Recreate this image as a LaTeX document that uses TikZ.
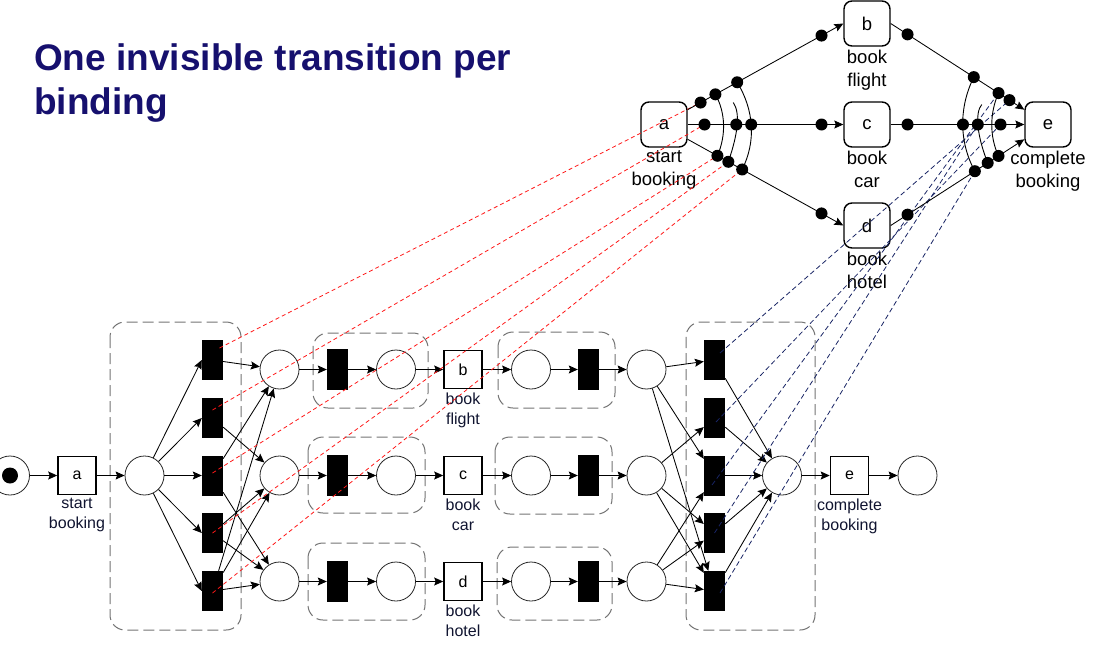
\documentclass[tikz,border=0pt]{standalone}
\usepackage{fontspec}
\setmainfont{Liberation Sans}
\usetikzlibrary{arrows.meta,calc}
\definecolor{titleblue}{RGB}{22,16,110}
\definecolor{labelink}{RGB}{16,20,48}
\definecolor{bindred}{RGB}{255,24,24}
\definecolor{bindblue}{RGB}{24,36,100}
\begin{document}
\begin{tikzpicture}[x=1pt,y=-1pt,
  >={Stealth[length=9pt,width=8pt,inset=1.5pt]},
  flow/.style={->,line width=0.85pt},
  place/.style={circle,draw=black!85,line width=0.8pt,minimum size=39pt,inner sep=0pt},
  silent/.style={rectangle,fill=black,minimum width=21pt,minimum height=40pt,inner sep=0pt},
  task/.style={rectangle,draw,line width=1.6pt,minimum width=38pt,minimum height=38pt,inner sep=0pt,font=\fontsize{16}{19}\selectfont},
  tasklabel/.style={anchor=north,align=center,inner sep=0pt,text=labelink,font=\fontsize{16}{20}\selectfont},
  group/.style={draw=black!55,line width=1pt,dash pattern=on 11pt off 5pt,rounded corners=15pt},
  activity/.style={rectangle,draw,rounded corners=8pt,line width=1.4pt,minimum width=46pt,minimum height=45pt,inner sep=0pt,font=\fontsize{18.5}{22}\selectfont},
  actlabel/.style={anchor=north,align=center,inner sep=0pt,font=\fontsize{18.5}{23}\selectfont},
  dot/.style={circle,fill=black,minimum size=12pt,inner sep=0pt},
  bindarc/.style={line width=0.9pt},
  redlink/.style={draw=bindred,line width=0.8pt,dash pattern=on 4pt off 3pt},
  bluelink/.style={draw=bindblue,line width=0.8pt,dash pattern=on 5pt off 3pt},
  titletext/.style={anchor=base west,inner sep=0pt,text=titleblue,font=\fontsize{37}{44}\selectfont\bfseries},
]
\useasboundingbox (0,0) rectangle (1102,662);

% ---------- heading ----------
\node[titletext] (title1) at (34,70) {One invisible transition per};
\node[titletext] (title2) at (34,114) {binding};

% ---------- Petri net: groups of silent transitions ----------
\draw[group] (110,322) rectangle (241,630);
\draw[group] (313,333) rectangle (428,408);
\draw[group] (308,437) rectangle (425,513);
\draw[group] (308,543) rectangle (425,620);
\draw[group] (498,332) rectangle (615,408);
\draw[group] (495,437) rectangle (612,514);
\draw[group] (497,547) rectangle (612,620);
\draw[group] (686,322) rectangle (815,630);

% ---------- Petri net: places and transitions ----------
\node[place] (src) at (10,475.5) {};
\node[circle,fill=black,minimum size=16pt,inner sep=0pt] (token) at (src.center) {};
\node[task] (ta) at (77,475.5) {a};
\node[tasklabel] (la) at ($(ta.south)+(0,3)$) {start\\booking};
\node[place] (p1) at (144.5,475.5) {};

\foreach \i/\y in {1/360,2/418,3/475.5,4/533,5/591} {
  \node[silent] (s\i) at (212.5,\y) {};
  \node[silent] (j\i) at (714.5,\y) {};
}

\foreach \r/\y in {b/369.5,c/475.5,d/581.5} {
  \node[place] (p\r0) at (279.5,\y) {};
  \node[silent,minimum height=41pt] (x\r1) at (337.5,\y) {};
  \node[place] (p\r1) at (396,\y) {};
  \node[task] (t\r) at (463,\y) {\r};
  \node[place] (p\r2) at (531,\y) {};
  \node[silent,minimum height=41pt] (x\r2) at (588.5,\y) {};
  \node[place] (p\r3) at (646.5,\y) {};
}
\node[tasklabel] (lb) at ($(tb.south)+(0,3)$) {book\\flight};
\node[tasklabel] (lc) at ($(tc.south)+(0,3)$) {book\\car};
\node[tasklabel] (ld) at ($(td.south)+(0,3)$) {book\\hotel};

\node[place] (pm) at (782,475.5) {};
\node[task] (te) at (849.5,475.5) {e};
\node[tasklabel] (le) at ($(te.south)+(0,3)$) {complete\\booking};
\node[place] (sink) at (917.5,475.5) {};

% ---------- Petri net: arcs ----------
\draw[flow] (src) -- (ta);
\draw[flow] (ta) -- (p1);
\foreach \i in {1,...,5} \draw[flow] (p1) -- (s\i.west);
\draw[flow] (s1) -- (pb0);
\draw[flow] (s2) -- (pc0);
\draw[flow] (s3) -- (pb0);
\draw[flow] (s3) -- (pd0);
\draw[flow] (s4) -- (pc0);
\draw[flow] (s4) -- (pd0);
\draw[flow] (s5) -- (pb0);
\draw[flow] (s5) -- (pc0);
\draw[flow] (s5) -- (pd0);
\foreach \r in {b,c,d} {
  \draw[flow] (p\r0) -- (x\r1);
  \draw[flow] (x\r1) -- (p\r1);
  \draw[flow] (p\r1) -- (t\r);
  \draw[flow] (t\r) -- (p\r2);
  \draw[flow] (p\r2) -- (x\r2);
  \draw[flow] (x\r2) -- (p\r3);
}
\draw[flow] (pb3) -- (j1);
\draw[flow] (pb3) -- (j3);
\draw[flow] (pb3) -- (j5);
\draw[flow] (pc3) -- (j2);
\draw[flow] (pc3) -- (j4);
\draw[flow] (pc3) -- (j5);
\draw[flow] (pd3) -- (j3);
\draw[flow] (pd3) -- (j4);
\draw[flow] (pd3) -- (j5);
\foreach \i in {1,...,5} \draw[flow] (j\i) -- (pm);
\draw[flow] (pm) -- (te);
\draw[flow] (te) -- (sink);

% ---------- causal net: activities ----------
\node[activity] (ca) at (664,124.5) {a};
\node[activity] (cb) at (867,23.5) {b};
\node[activity] (cc) at (867,124.5) {c};
\node[activity] (cd) at (867,225.5) {d};
\node[activity] (ce) at (1048,124.5) {e};
\node[actlabel] (lca) at ($(ca.south)+(0,3)$) {start\\booking};
\node[actlabel] (lcb) at ($(cb.south)+(0,3)$) {book\\flight};
\node[actlabel] (lcc) at ($(cc.south)+(0,3)$) {book\\car};
\node[actlabel] (lcd) at ($(cd.south)+(0,3)$) {book\\hotel};
\node[actlabel] (lce) at ($(ce.south)+(0,3)$) {complete\\booking};

% binding dots along the dependency arcs
\path (ca.32) -- (cb.west) coordinate[pos=.083] (ab1) coordinate[pos=.178] (ab2)
      coordinate[pos=.318] (ab3) coordinate[pos=.86] (ab4);
\path (ca.east) -- (cc.west) coordinate[pos=.108] (ac1) coordinate[pos=.312] (ac2)
      coordinate[pos=.408] (ac3) coordinate[pos=.86] (ac4);
\path (ca.-32) -- (cd.west) coordinate[pos=.191] (ad1) coordinate[pos=.261] (ad2)
      coordinate[pos=.35] (ad3) coordinate[pos=.86] (ad4);
\path (cb.east) -- (ce.148) coordinate[pos=.126] (be1) coordinate[pos=.622] (be2)
      coordinate[pos=.807] (be3) coordinate[pos=.889] (be4);
\path (cc.east) -- (ce.west) coordinate[pos=.126] (ce1) coordinate[pos=.541] (ce2)
      coordinate[pos=.652] (ce3) coordinate[pos=.822] (ce4);
\path (cd.east) -- (ce.212) coordinate[pos=.126] (de1) coordinate[pos=.63] (de2)
      coordinate[pos=.726] (de3) coordinate[pos=.807] (de4);
\coordinate (asplit) at ($(ac2)+(-3,-22)$);
\coordinate (ejoin) at ($(ce3)+(4,-20)$);

% ---------- links from silent transitions to bindings ----------
\draw[redlink] ([shift={(7,-12)}]s1.center) -- (ab1);
\draw[redlink] ([shift={(0,-8)}]s2.center) -- (ac1);
\draw[redlink] ([shift={(0,-2.5)}]s3.center) -- (ad1);
\draw[redlink] (s4.center) -- (ad2);
\draw[redlink] ([shift={(0,2)}]s5.center) -- (ad3);
\draw[bluelink] ([shift={(5.5,-7)}]j1.center) -- (be4);
\draw[bluelink] ([shift={(1.5,4)}]j2.center) -- (ce4);
\draw[bluelink] ([shift={(-2.5,9.5)}]j3.center) -- (be3);
\draw[bluelink] (j4.center) -- (ce3);
\draw[bluelink] ([shift={(5.5,2)}]j5.center) -- (de2);

% ---------- causal net: dependencies ----------
\draw[flow] (ca.32) -- (cb.west);
\draw[flow] (ca.east) -- (cc.west);
\draw[flow] (ca.-32) -- (cd.west);
\draw[flow] (cb.east) -- (ce.148);
\draw[flow] (cc.east) -- (ce.west);
\draw[flow] (cd.east) -- (ce.212);

% output bindings of a
\draw[bindarc] (ab2) .. controls +(10,18) and +(9,-21) .. (ad1);
\draw[bindarc] (asplit) .. controls +(7,10) and +(10,-29) .. (ad2);
\draw[bindarc] (ab3) .. controls +(17,28) and +(14,-28) .. (ad3);
% input bindings of e
\draw[bindarc] (be2) .. controls +(-15,30) and +(-16,-29) .. (de2);
\draw[bindarc] (ejoin) .. controls +(-7,8) and +(-11,-28) .. (de3);
\draw[bindarc] (be3) .. controls +(-9,20) and +(-9,-19) .. (de4);

\foreach \n in {ab1,ab2,ab3,ab4,ac1,ac2,ac3,ac4,ad1,ad2,ad3,ad4,
                be1,be2,be3,be4,ce1,ce2,ce3,ce4,de1,de2,de3,de4}
  \node[dot] (d-\n) at (\n) {};
\end{tikzpicture}
\end{document}
